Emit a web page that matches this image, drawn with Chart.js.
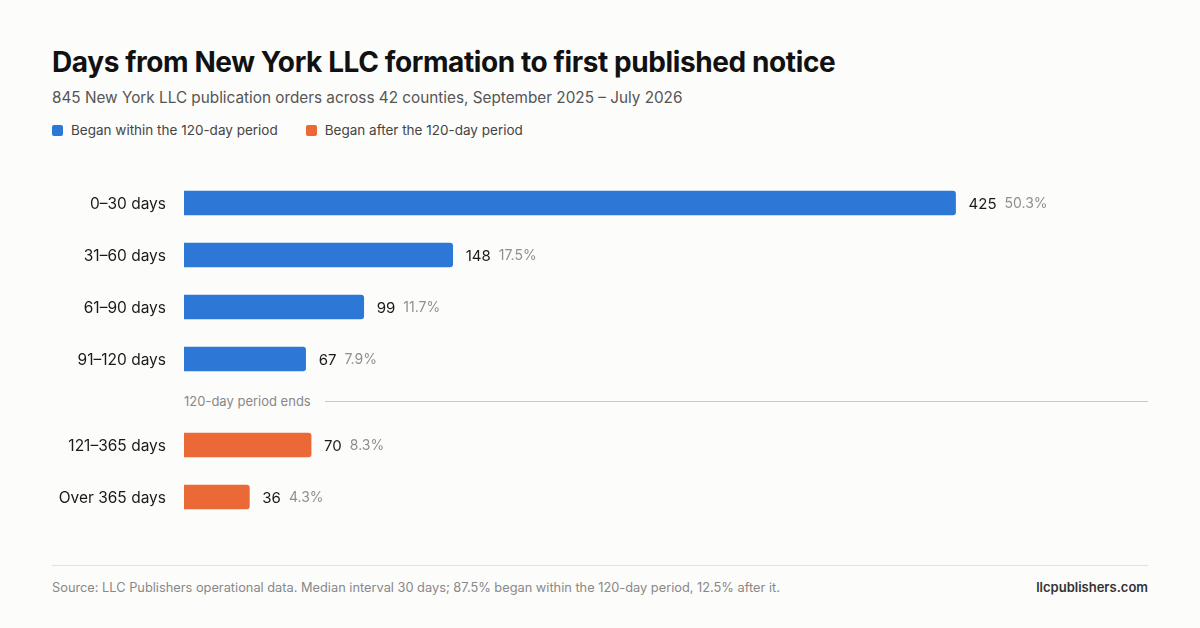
<!DOCTYPE html>
<html>
<head>
<meta charset="utf-8">
<script src="https://cdn.jsdelivr.net/npm/chart.js@4.4.1/dist/chart.umd.min.js"></script>
<style>
  html, body { margin: 0; padding: 0; }
  body {
    width: 1200px; height: 628px; background: #fcfcfb;
    font-family: Inter, "Noto Sans", sans-serif; position: relative; overflow: hidden;
  }
  h1 { position: absolute; left: 52px; top: 45px; margin: 0; font-size: 28px; font-weight: 700; color: #111; letter-spacing: -0.4px; }
  .sub { position: absolute; left: 52px; top: 88px; font-size: 15.3px; color: #555; }
  .legend { position: absolute; left: 52px; top: 122px; font-size: 13.5px; color: #444; display: flex; gap: 28px; }
  .legend span { display: flex; align-items: center; }
  .legend i { display: inline-block; width: 11px; height: 11px; border-radius: 2px; margin-right: 8px; }
  .chartbox { position: absolute; left: 52px; width: 1096px; }
  .chartbox canvas { display: block; }
  #top { top: 177px; height: 208px; }
  #bottom { top: 419px; height: 104px; }
  .divider { position: absolute; left: 184px; top: 393px; width: 964px; display: flex; align-items: center; font-size: 13px; color: #888; }
  .divider b { font-weight: 400; margin-right: 14px; }
  .divider hr { flex: 1; border: 0; border-top: 1px solid #c8c8c8; margin: 0; }
  .foot { position: absolute; left: 52px; top: 565px; width: 1096px; border-top: 1px solid #e2e2e2; }
  .src { position: absolute; left: 52px; top: 580px; font-size: 12.8px; color: #888; }
  .site { position: absolute; right: 52px; top: 579px; font-size: 13px; font-weight: 600; color: #333; }
</style>
</head>
<body>
<h1>Days from New York LLC formation to first published notice</h1>
<div class="sub">845 New York LLC publication orders across 42 counties, September 2025 – July 2026</div>
<div class="legend">
  <span><i style="background:#2d78d6"></i>Began within the 120-day period</span>
  <span><i style="background:#eb6936"></i>Began after the 120-day period</span>
</div>
<div class="chartbox" id="top"><canvas id="c1" width="1096" height="208"></canvas></div>
<div class="divider"><b>120-day period ends</b><hr></div>
<div class="chartbox" id="bottom"><canvas id="c2" width="1096" height="104"></canvas></div>
<div class="foot"></div>
<div class="src">Source: LLC Publishers operational data. Median interval 30 days; 87.5% began within the 120-day period, 12.5% after it.</div>
<div class="site">llcpublishers.com</div>
<script>
const withinLabels = ["0–30 days", "31–60 days", "61–90 days", "91–120 days"];
const withinCounts = [425, 148, 99, 67];
const withinShares = ["50.3%", "17.5%", "11.7%", "7.9%"];
const afterLabels = ["121–365 days", "Over 365 days"];
const afterCounts = [70, 36];
const afterShares = ["8.3%", "4.3%"];
const xMax = 531;

const FONT = "Inter, 'Noto Sans', sans-serif";

// category names left of the bars, counts and shares right of them
const barText = {
  id: "barText",
  afterDatasetsDraw(chart, args, opts) {
    const ctx = chart.ctx;
    const meta = chart.getDatasetMeta(0);
    const left = chart.chartArea.left;
    ctx.save();
    ctx.textBaseline = "middle";
    meta.data.forEach((bar, i) => {
      const y = bar.y + 1;
      ctx.font = "15.5px " + FONT;
      ctx.fillStyle = "#1a1a1a";
      ctx.textAlign = "right";
      ctx.fillText(chart.data.labels[i], left - 18, y);
      ctx.textAlign = "left";
      ctx.font = "15px " + FONT;
      const x = bar.x + 13;
      const v = String(chart.data.datasets[0].data[i]);
      ctx.fillText(v, x, y);
      const w = ctx.measureText(v).width;
      ctx.font = "14px " + FONT;
      ctx.fillStyle = "#8f8f8f";
      ctx.fillText(opts.shares[i], x + w + 8, y);
    });
    ctx.restore();
  }
};

function makeChart(id, labels, counts, shares, color) {
  return new Chart(document.getElementById(id), {
    type: "bar",
    data: {
      labels: labels,
      datasets: [{
        data: counts,
        backgroundColor: color,
        barThickness: 24,
        borderRadius: { topRight: 3, bottomRight: 3 },
        borderSkipped: "start"
      }]
    },
    options: {
      indexAxis: "y",
      responsive: false,
      animation: false,
      layout: { padding: { left: 132, right: 0, top: 0, bottom: 0 } },
      plugins: { legend: { display: false }, tooltip: { enabled: false }, barText: { shares: shares } },
      scales: {
        x: { min: 0, max: xMax, display: false },
        y: { display: false }
      }
    },
    plugins: [barText]
  });
}

makeChart("c1", withinLabels, withinCounts, withinShares, "#2d78d6");
makeChart("c2", afterLabels, afterCounts, afterShares, "#eb6936");
</script>
</body>
</html>
